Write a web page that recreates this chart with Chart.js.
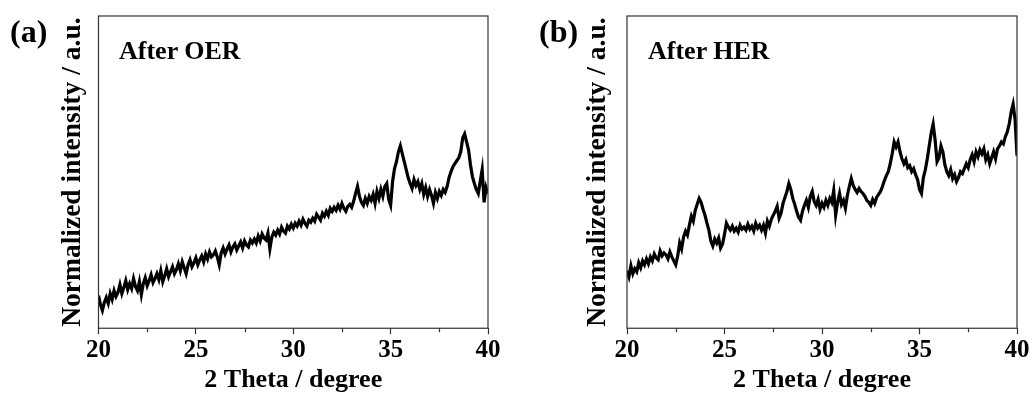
<!DOCTYPE html>
<html>
<head>
<meta charset="utf-8">
<script src="https://cdn.jsdelivr.net/npm/chart.js@4/dist/chart.umd.min.js"></script>
<style>
  html, body { margin: 0; padding: 0; background: #fff; }
  #wrap { position: relative; width: 1033px; height: 394px; overflow: hidden; font-family: 'Liberation Serif', 'Times New Roman', serif; font-weight: bold; color: #000; }
  .box { position: absolute; top: 0; height: 394px; }
  .tag { position: absolute; font-size: 32px; line-height: 1; }
  .note { position: absolute; font-size: 26px; line-height: 1; }
</style>
</head>
<body>
<div id="wrap">
  <div class="box" style="left:0;width:516px"><canvas id="oerChart"></canvas></div>
  <div class="box" style="left:520px;width:513px"><canvas id="herChart"></canvas></div>
  <div class="tag" style="left:10px;top:15px">(a)</div>
  <div class="tag" style="left:539px;top:15px">(b)</div>
  <div class="note" style="left:119px;top:38px">After OER</div>
  <div class="note" style="left:648px;top:38px">After HER</div>
</div>
<script>
// 2 theta grid: 20.0 .. 40.0 step 0.1
const theta = Array.from({ length: 201 }, (_, i) => +(20 + i * 0.1).toFixed(1));

const oerIntensity = [
  33, 24, 18, 26, 31, 25, 35, 29, 38, 32,
  36, 44, 35, 41, 48, 39, 45, 40, 50, 42,
  38, 47, 34, 45, 51, 43, 48, 54, 46, 50,
  55, 49, 58, 47, 53, 60, 52, 57, 62, 55,
  59, 65, 58, 67, 61, 55, 64, 69, 62, 66,
  71, 64, 69, 73, 67, 75, 70, 77, 72, 74,
  78, 72, 64, 76, 81, 75, 80, 84, 77, 82,
  85, 79, 83, 87, 81, 88, 84, 82, 89, 86,
  90, 86, 93, 88, 95, 91, 89, 96, 80, 92,
  97, 94, 99, 95, 102, 98, 96, 103, 100, 105,
  101, 106, 103, 108, 104, 110, 106, 103, 109, 107,
  111, 108, 115, 112, 109, 116, 113, 118, 114, 121,
  118, 122, 119, 124, 120, 126, 121, 118, 123, 125,
  122, 128, 136, 143, 133, 127, 124, 131, 126, 133,
  129, 135, 126, 138, 131, 140, 133, 143, 146, 130,
  124, 148, 161, 168, 178, 184, 176, 168, 160, 152,
  146, 141, 150, 144, 148, 140, 146, 135, 142, 133,
  140, 134, 126, 137, 131, 138, 134, 140, 137, 143,
  152, 158, 163, 166, 169, 172, 178, 192, 196, 188,
  180, 165, 153, 146, 140, 136, 148, 160, 127, 142,
  136
];

const herIntensity = [
  58, 52, 63, 55, 60, 57, 66, 61, 68, 64,
  70, 65, 72, 68, 75, 71, 69, 78, 73, 76,
  74, 70, 77, 72, 68, 64, 73, 86, 80, 92,
  98, 94, 104, 113, 108, 119, 125, 131, 127, 120,
  114, 106, 99, 88, 83, 90, 86, 91, 81, 85,
  95, 106, 102, 99, 103, 98, 101, 97, 104, 100,
  102, 99, 105, 100, 103, 98, 106, 101, 104, 99,
  104, 96, 108, 103, 110, 114, 118, 123, 111, 116,
  126, 132, 138, 146, 140, 131, 125, 118, 112, 109,
  118, 124, 129, 122, 133, 138, 128, 124, 130, 120,
  126, 122, 129, 124, 131, 127, 139, 114, 127, 136,
  125, 129, 121, 134, 143, 151, 144, 140, 137, 141,
  138, 136, 133, 129, 127, 124, 130, 126, 132, 135,
  138, 143, 149, 154, 158, 166, 176, 188, 183, 188,
  178, 171, 166, 170, 162, 164, 158, 161, 155, 150,
  140, 136, 152, 160, 171, 184, 197, 206, 190, 168,
  172, 184, 178, 165, 158, 154, 160, 151, 155, 148,
  152, 158, 156, 161, 166, 162, 170, 175, 168, 178,
  173, 180, 176, 181, 170, 175, 166, 172, 178, 171,
  181, 184, 188, 186, 193, 198, 206, 218, 226, 211,
  174
];

const majorTicks = [20, 25, 30, 35, 40];
const minorTicks = [22.5, 27.5, 32.5, 37.5];
const yRange = [0, 315];

const serif = "'Liberation Serif', 'Times New Roman', serif";

// frame around the plot + short minor ticks
const framePlugin = {
  id: 'frame',
  afterDraw(chart) {
    const { ctx, chartArea: a, scales } = chart;
    ctx.save();
    ctx.strokeStyle = '#333';
    ctx.lineWidth = 1.2;
    ctx.strokeRect(a.left, a.top, a.right - a.left, a.bottom - a.top);
    minorTicks.forEach(v => {
      const x = Math.round(scales.x.getPixelForValue(v)) + 0.5;
      ctx.beginPath();
      ctx.moveTo(x, a.bottom);
      ctx.lineTo(x, a.bottom + 4);
      ctx.stroke();
    });
    ctx.restore();
  }
};

function makePanel(id, values, padLeft, padRight, titleGap) {
  return new Chart(document.getElementById(id), {
    type: 'line',
    data: {
      datasets: [{
        data: values.map((v, i) => ({ x: theta[i], y: v })),
        borderColor: '#000',
        borderWidth: 3.2,
        pointRadius: 0,
        tension: 0,
        fill: false
      }]
    },
    options: {
      responsive: true,
      maintainAspectRatio: false,
      animation: false,
      layout: { padding: { left: padLeft, right: padRight, top: 16, bottom: 0 } },
      plugins: { legend: { display: false }, tooltip: { enabled: false } },
      scales: {
        x: {
          type: 'linear',
          min: 20,
          max: 40,
          border: { display: false },
          grid: {
            drawOnChartArea: false,
            tickLength: 6,
            tickWidth: 1.2,
            tickColor: c => majorTicks.includes(c.tick.value) ? '#333' : 'rgba(0,0,0,0)'
          },
          ticks: {
            stepSize: 2.5,
            autoSkip: false,
            maxRotation: 0,
            padding: 2,
            color: '#000',
            font: { family: serif, size: 25, weight: 'bold', lineHeight: 1.15 },
            callback: v => majorTicks.includes(v) ? String(v) : ''
          },
          title: {
            display: true,
            text: '2 Theta / degree',
            color: '#000',
            padding: { top: 0, bottom: 1 },
            font: { family: serif, size: 26, weight: 'bold', lineHeight: 1.0 }
          }
        },
        y: {
          min: yRange[0],
          max: yRange[1],
          border: { display: false },
          grid: { display: false, drawTicks: false },
          ticks: { display: false },
          title: {
            display: true,
            text: 'Normalized intensity / a.u.',
            color: '#000',
            padding: { top: 4, bottom: titleGap },
            font: { family: serif, size: 27.5, weight: 'bold', lineHeight: 1.2 }
          }
        }
      }
    },
    plugins: [framePlugin]
  });
}

makePanel('oerChart', oerIntensity, 52, 28, 9.5);
makePanel('herChart', herIntensity, 57, 16, 13);
</script>
</body>
</html>
